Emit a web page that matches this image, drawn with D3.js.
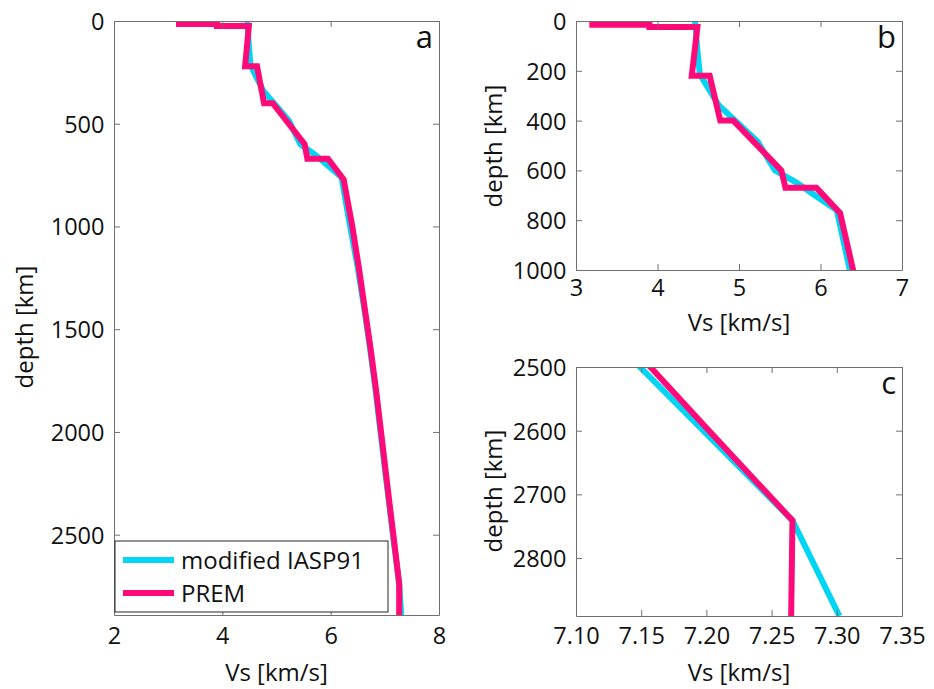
<!DOCTYPE html>
<html>
<head>
<meta charset="utf-8">
<script src="https://cdn.jsdelivr.net/npm/d3@7"></script>
<style>
  html, body { margin: 0; padding: 0; background: #fff; }
  svg { display: block; }
  text { font-family: "Open Sans", "Noto Sans", sans-serif; fill: #111; }
</style>
</head>
<body>
<svg id="chart" width="934" height="689"></svg>
<script>
// ---- data (depth in km, Vs in km/s) ----
const premDepth = [3, 15, 15, 24.4, 24.4, 80, 220, 220, 400, 400, 600, 670, 670, 771,
                   1000, 1200, 1400, 1600, 1800, 2000, 2200, 2400, 2500, 2600, 2741, 2891];
const premVs    = [3.20, 3.20, 3.90, 3.90, 4.49, 4.47, 4.42, 4.64, 4.77, 4.93, 5.52, 5.57, 5.95, 6.24,
                   6.40, 6.52, 6.63, 6.74, 6.84, 6.93, 7.02, 7.11, 7.157, 7.202, 7.266, 7.265];
const iaspDepth = [0, 120, 215, 338, 485, 600, 650, 700, 760,
                   1000, 1200, 1400, 1600, 1800, 2000, 2200, 2400, 2500, 2741, 2891];
const iaspVs    = [4.46, 4.49, 4.52, 4.75, 5.23, 5.44, 5.71, 5.93, 6.20,
                   6.36, 6.50, 6.62, 6.73, 6.83, 6.92, 7.01, 7.103, 7.149, 7.266, 7.302];
const seriesNames = ["modified IASP91", "PREM"];

const xTicksA = [2, 4, 6, 8];
const yTicksA = [0, 500, 1000, 1500, 2000, 2500];
const xTicksB = [3, 4, 5, 6, 7];
const yTicksB = [0, 200, 400, 600, 800, 1000];
const xTicksC = [7.10, 7.15, 7.20, 7.25, 7.30, 7.35];
const yTicksC = [2500, 2600, 2700, 2800];

const xLabel = "Vs [km/s]";
const yLabel = "depth [km]";
const panelLetters = ["a", "b", "c"];

// ---- styles / layout ----
const colors = ["#00d6f4", "#ff0a78"];
const axisColor = "#707070";
const svg = d3.select("#chart");

const iasp = iaspDepth.map((d, i) => ({ d, v: iaspVs[i] }));
const prem = premDepth.map((d, i) => ({ d, v: premVs[i] }));
const series = [iasp, prem];

const panels = [
  { id: "a", left: 114, top: 21, width: 325, height: 594, xDom: [2, 8], yDom: [0, 2891],
    xTicks: xTicksA, yTicks: yTicksA, fmt: d3.format("d"), yLabelX: 33, yLabelY: 327, xTickOff: 29, xLabOff: 66 },
  { id: "b", left: 576, top: 21, width: 326, height: 249, xDom: [3, 7], yDom: [0, 1000],
    xTicks: xTicksB, yTicks: yTicksB, fmt: d3.format("d"), yLabelX: 502, yLabelY: 146, xTickOff: 26, xLabOff: 61 },
  { id: "c", left: 576, top: 367, width: 326, height: 249, xDom: [7.10, 7.35], yDom: [2500, 2891],
    xTicks: xTicksC, yTicks: yTicksC, fmt: d3.format(".2f"), yLabelX: 502, yLabelY: 491, xTickOff: 28, xLabOff: 65 }
];

panels.forEach((p, pi) => {
  const x = d3.scaleLinear().domain(p.xDom).range([0, p.width]);
  const y = d3.scaleLinear().domain(p.yDom).range([0, p.height]);
  const g = svg.append("g").attr("transform", `translate(${p.left},${p.top})`);

  g.append("clipPath").attr("id", "clip" + p.id)
    .append("rect").attr("width", p.width).attr("height", p.height);

  const line = d3.line().x(d => x(d.v)).y(d => y(d.d));
  const plot = g.append("g").attr("clip-path", `url(#clip${p.id})`);
  series.forEach((s, i) => {
    plot.append("path").datum(s)
      .attr("d", line)
      .attr("fill", "none")
      .attr("stroke", colors[i])
      .attr("stroke-width", 6)
      .attr("stroke-linejoin", "miter")
      .attr("stroke-miterlimit", 3);
  });

  // axes with inward ticks on all sides
  const tick = 6;
  const left = g.append("g").call(d3.axisLeft(y).tickValues(p.yTicks).tickFormat(d3.format("d"))
    .tickSizeInner(-tick).tickSizeOuter(0).tickPadding(9.5));
  const right = g.append("g").attr("transform", `translate(${p.width},0)`)
    .call(d3.axisRight(y).tickValues(p.yTicks).tickFormat("").tickSizeInner(-tick).tickSizeOuter(0));
  const top = g.append("g")
    .call(d3.axisTop(x).tickValues(p.xTicks).tickFormat("").tickSizeInner(-tick).tickSizeOuter(0));
  const bottom = g.append("g").attr("transform", `translate(0,${p.height})`)
    .call(d3.axisBottom(x).tickValues(p.xTicks).tickFormat(p.fmt).tickSizeInner(-tick).tickSizeOuter(0).tickPadding(0));

  [left, right, top, bottom].forEach(a => {
    a.selectAll("path.domain").attr("stroke", axisColor).attr("stroke-width", 1);
    a.selectAll(".tick line").attr("stroke", axisColor).attr("stroke-width", 1);
    a.selectAll("text").style("font-family", "'Open Sans', sans-serif").style("font-size", "23.5px").attr("fill", "#111");
  });
  bottom.selectAll(".tick text").attr("y", p.xTickOff).attr("dy", null);
  left.selectAll(".tick text").attr("dy", "0.36em");

  // axis labels
  g.append("text")
    .attr("x", p.width / 2).attr("y", p.height + p.xLabOff)
    .attr("text-anchor", "middle").style("font-size", "24px")
    .text(xLabel);
  g.append("text")
    .attr("transform", `translate(${p.yLabelX - p.left},${p.yLabelY - p.top}) rotate(-90)`)
    .attr("text-anchor", "middle").style("font-size", "24px")
    .text(yLabel);

  // panel letter
  g.append("text")
    .attr("x", p.width - 6).attr("y", 27)
    .attr("text-anchor", "end").style("font-size", "31px")
    .text(panelLetters[pi]);

  // legend in panel a
  if (p.id === "a") {
    const lg = g.append("g").attr("transform", `translate(1,${p.height - 74})`);
    lg.append("rect").attr("x", 0).attr("y", 0).attr("width", 273).attr("height", 71)
      .attr("fill", "#fff").attr("stroke", "#262626").attr("stroke-width", 1);
    seriesNames.forEach((name, i) => {
      const yy = 19 + i * 33;
      lg.append("line").attr("x1", 8).attr("x2", 59).attr("y1", yy).attr("y2", yy)
        .attr("stroke", colors[i]).attr("stroke-width", 6);
      lg.append("text").attr("x", 66).attr("y", yy + 9).style("font-size", "24px").text(name);
    });
  }
});
</script>
</body>
</html>
